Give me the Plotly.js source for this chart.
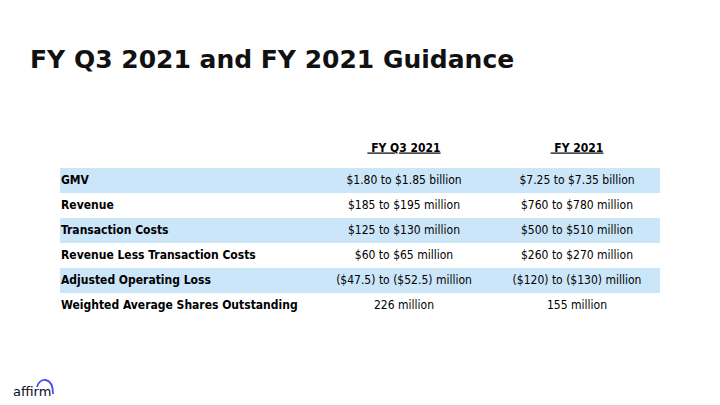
<!DOCTYPE html>
<html>
<head>
<meta charset="utf-8">
<script src="https://cdn.plot.ly/plotly-3.0.1.min.js"></script>
<style>html,body{margin:0;padding:0;background:#fff;}#chart{width:720px;height:405px;}</style>
</head>
<body>
<div id="chart"></div>
<script>
var titleText = "FY Q3 2021 and FY 2021 Guidance";
var columnHeaders = ["FY Q3 2021", "FY 2021"];
var metrics = ["GMV", "Revenue", "Transaction Costs", "Revenue Less Transaction Costs", "Adjusted Operating Loss", "Weighted Average Shares Outstanding"];
var q3Guidance = ["$1.80 to $1.85 billion", "$185 to $195 million", "$125 to $130 million", "$60 to $65 million", "($47.5) to ($52.5) million", "226 million"];
var fyGuidance = ["$7.25 to $7.35 billion", "$760 to $780 million", "$500 to $510 million", "$260 to $270 million", "($120) to ($130) million", "155 million"];

var FONT = "'DejaVu Sans Condensed', 'DejaVu Sans', sans-serif";
var blue = "#cce6f9";

// plot-area geometry in pixels
var W = 720, H = 405;
var M = {l: 50, r: 60, t: 118, b: 87};
var PW = W - M.l - M.r, PH = H - M.t - M.b;
function px(x){ return (x - M.l) / PW; }
function py(y){ return 1 - (y - M.t) / PH; }

var tableWidth = 600;
var col1X = 344, col2X = 517, labelX = 1;
var rowIdx = metrics.map(function(_, i){ return i; });
var headerY = -1.28;

var bands = {
  type: "bar", orientation: "h",
  y: rowIdx,
  x: metrics.map(function(){ return tableWidth; }),
  base: 0, width: 1,
  marker: {color: rowIdx.map(function(i){ return i % 2 === 0 ? blue : "#ffffff"; }), line: {width: 0}},
  hoverinfo: "skip", showlegend: false
};

function textTrace(xs, ys, texts, pos, bold) {
  return {
    type: "scatter", mode: "text",
    x: xs, y: ys,
    text: texts.map(function(t){ return bold ? "<b>" + t + "</b>" : t; }),
    textposition: pos,
    textfont: {family: FONT, size: 12, color: "#000000"},
    cliponaxis: false, hoverinfo: "skip", showlegend: false
  };
}

var labels = textTrace(metrics.map(function(){ return labelX; }), rowIdx, metrics, "middle right", true);
var q3 = textTrace(metrics.map(function(){ return col1X; }), rowIdx, q3Guidance, "middle center", false);
var fy = textTrace(metrics.map(function(){ return col2X; }), rowIdx, fyGuidance, "middle center", false);
var headers = textTrace([col1X, col2X], [headerY, headerY],
  columnHeaders.map(function(h){ return "<u>\u00a0" + h + "</u>"; }), "middle center", true);

var layout = {
  width: W, height: H,
  margin: M,
  paper_bgcolor: "#ffffff",
  plot_bgcolor: "#ffffff",
  bargap: 0,
  xaxis: {range: [-10, tableWidth], visible: false, fixedrange: true},
  yaxis: {range: [metrics.length - 0.5, -2.5], visible: false, fixedrange: true},
  title: {
    text: "<b>" + titleText + "</b>",
    x: 30/W, xanchor: "left", xref: "container",
    y: 1 - 59/H, yanchor: "middle", yref: "container",
    font: {family: "'DejaVu Sans', sans-serif", size: 25, color: "#111111"}
  },
  annotations: [{
    text: "affirm", xref: "paper", yref: "paper",
    x: px(11), y: py(391), xanchor: "left", yanchor: "middle",
    showarrow: false, font: {family: "'DejaVu Sans', sans-serif", size: 13, color: "#0a0a23"}
  }],
  shapes: [{
    type: "path", xref: "paper", yref: "paper",
    path: "M " + px(37) + " " + py(387) + " C " + px(39) + " " + py(377) + " " + px(53) + " " + py(376) + " " + px(53) + " " + py(394),
    line: {color: "#4a4af4", width: 1.8}
  }]
};

Plotly.newPlot("chart", [bands, labels, q3, fy, headers], layout, {displayModeBar: false, staticPlot: true});
</script>
</body>
</html>
